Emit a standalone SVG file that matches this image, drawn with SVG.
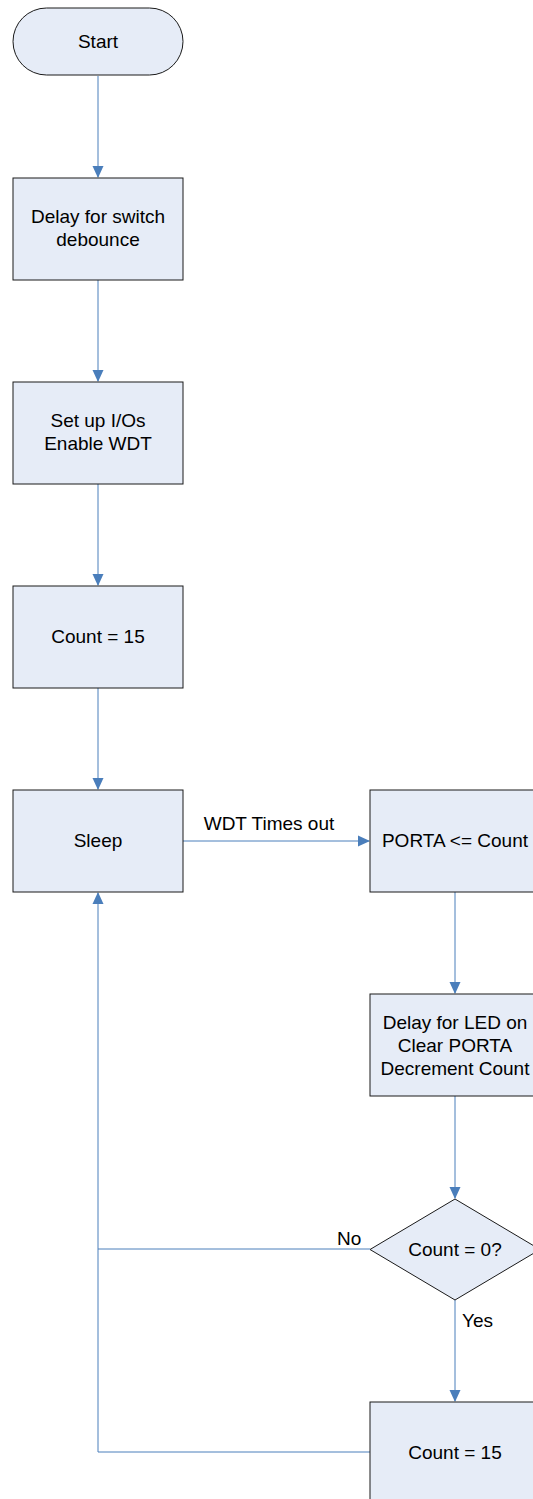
<svg xmlns="http://www.w3.org/2000/svg" width="533" height="1499" viewBox="0 0 533 1499">
<style>
.n{fill:#e6ecf7;stroke:#1a1a1a;stroke-width:1}
.t{font-family:"Liberation Sans",Arial,sans-serif;font-size:19px;fill:#000;text-anchor:middle}
.l{font-family:"Liberation Sans",Arial,sans-serif;font-size:19px;fill:#000}
.c{fill:none;stroke:#4a7ebb;stroke-width:1}
</style>
<defs>
<marker id="a" markerWidth="12" markerHeight="12" refX="11" refY="6" orient="auto" markerUnits="userSpaceOnUse">
<path d="M0,0.5 L12,6 L0,11.5 Z" fill="#4a7ebb"/>
</marker>
</defs>
<rect width="533" height="1499" fill="#fff"/>
<g id="connectors">
<line class="c" x1="98" y1="76" x2="98" y2="177" marker-end="url(#a)"/>
<line class="c" x1="98" y1="280" x2="98" y2="381" marker-end="url(#a)"/>
<line class="c" x1="98" y1="484" x2="98" y2="585" marker-end="url(#a)"/>
<line class="c" x1="98" y1="688" x2="98" y2="789" marker-end="url(#a)"/>
<line class="c" x1="183" y1="841" x2="369" y2="841" marker-end="url(#a)"/>
<line class="c" x1="455" y1="892" x2="455" y2="993" marker-end="url(#a)"/>
<line class="c" x1="455" y1="1096" x2="455" y2="1198" marker-end="url(#a)"/>
<line class="c" x1="455" y1="1300" x2="455" y2="1401" marker-end="url(#a)"/>
<polyline class="c" points="370,1249 98,1249"/>
<polyline class="c" points="370,1452 98,1452 98,893" marker-end="url(#a)"/>
<text class="t" x="269" y="830">WDT Times out</text>
<text class="l" x="337" y="1245">No</text>
<text class="l" x="462" y="1327">Yes</text>
</g>
<g id="start">
<rect class="n" x="13" y="8" width="170" height="67" rx="33.5" ry="33.5"/>
<text class="t" x="98" y="48">Start</text>
</g>
<g id="debounce">
<rect class="n" x="13" y="178" width="170" height="102"/>
<text class="t" x="98" y="223">Delay for switch</text>
<text class="t" x="98" y="246">debounce</text>
</g>
<g id="setup">
<rect class="n" x="13" y="382" width="170" height="102"/>
<text class="t" x="98" y="427">Set up I/Os</text>
<text class="t" x="98" y="450">Enable WDT</text>
</g>
<g id="count15a">
<rect class="n" x="13" y="586" width="170" height="102"/>
<text class="t" x="98" y="643">Count = 15</text>
</g>
<g id="sleep">
<rect class="n" x="13" y="790" width="170" height="102"/>
<text class="t" x="98" y="847">Sleep</text>
</g>
<g id="porta">
<rect class="n" x="370" y="790" width="170" height="102"/>
<text class="t" x="455" y="847">PORTA &lt;= Count</text>
</g>
<g id="delayled">
<rect class="n" x="370" y="994" width="170" height="102"/>
<text class="t" x="455" y="1029">Delay for LED on</text>
<text class="t" x="455" y="1052">Clear PORTA</text>
<text class="t" x="455" y="1075">Decrement Count</text>
</g>
<g id="decision">
<polygon class="n" points="455,1199 540,1249.5 455,1300 370,1249.5"/>
<text class="t" x="455" y="1256">Count = 0?</text>
</g>
<g id="count15b">
<rect class="n" x="370" y="1402" width="170" height="102"/>
<text class="t" x="455" y="1459">Count = 15</text>
</g>
</svg>
